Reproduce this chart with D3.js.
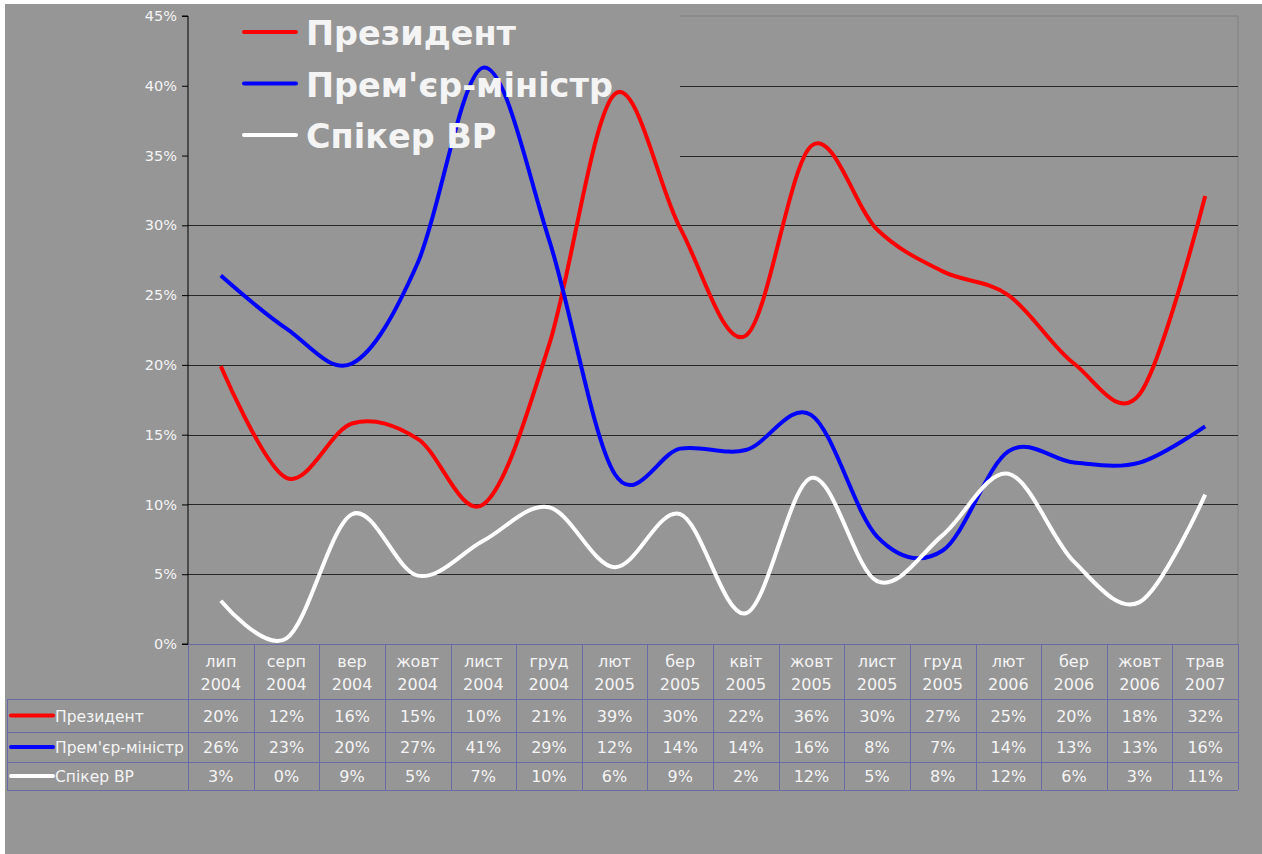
<html>
    <head>
        <meta charset="utf-8">
        <script src="https://cdn.jsdelivr.net/npm/d3@7"></script>
        <style>
            body { margin: 0; background: #fff; }
            text { font-family: "DejaVu Sans", sans-serif; fill: #f4f4f4; }
        </style>
    </head>
    <body>
        <svg id="chart"></svg>
    </body>
    <script>
        const WIDTH = 1262
        const HEIGHT = 854
        const PLOT = {left: 188, right: 1238, top: 16, bottom: 644}
        const BG = "#969696"
        const TABLE_LINE = "#6a6aa4"

        // month / year labels under each column
        const months = ["лип", "серп", "вер", "жовт", "лист", "груд", "лют", "бер", "квіт", "жовт", "лист", "груд", "лют", "бер", "жовт", "трав"]
        const years = ["2004", "2004", "2004", "2004", "2004", "2004", "2005", "2005", "2005", "2005", "2005", "2005", "2006", "2006", "2006", "2007"]

        // values in percent
        const president = [19.9, 11.9, 15.8, 14.7, 10.0, 21.4, 39.4, 29.8, 22.1, 35.7, 29.7, 26.7, 25.0, 20.1, 17.9, 32.1]
        const premier = [26.4, 22.6, 20.1, 27.3, 41.3, 29.0, 12.2, 14.0, 13.9, 16.4, 7.7, 6.7, 13.8, 13.0, 13.0, 15.6]
        const speaker = [3.1, 0.4, 9.3, 4.9, 7.4, 9.8, 5.5, 9.3, 2.2, 11.9, 4.5, 7.8, 12.2, 5.9, 3.0, 10.7]

        const seriesNames = ["Президент", "Прем'єр-міністр", "Спікер ВР"]
        const seriesColors = ["#ff0000", "#0000ff", "#ffffff"]
        const yTicks = [0, 5, 10, 15, 20, 25, 30, 35, 40, 45]

        const svg = d3.select("#chart").attr("width", WIDTH).attr("height", HEIGHT)

        // chart background
        svg.append("rect").attr("x", 5).attr("y", 4)
            .attr("width", WIDTH - 5).attr("height", HEIGHT - 4)
            .attr("fill", BG)

        const x = d3.scaleBand()
            .domain(d3.range(months.length))
            .range([PLOT.left, PLOT.right])
        const y = d3.scaleLinear()
            .domain([0, 45])
            .range([PLOT.bottom, PLOT.top])

        // plot border (top and right)
        svg.append("path")
            .attr("d", `M${PLOT.left},${PLOT.top}H${PLOT.right}V${PLOT.bottom}`)
            .attr("fill", "none").attr("stroke", "#808080").attr("stroke-width", 1)

        // gridlines
        svg.append("g").selectAll("line")
            .data(yTicks.filter(d => d > 0 && d < 45))
            .join("line")
                .attr("x1", PLOT.left).attr("x2", PLOT.right)
                .attr("y1", d => Math.round(y(d)) + 0.5).attr("y2", d => Math.round(y(d)) + 0.5)
                .attr("stroke", "#262626")

        // legend background hides the gridlines underneath it
        svg.append("rect")
            .attr("x", PLOT.left).attr("y", 8)
            .attr("width", 680 - PLOT.left).attr("height", 162)
            .attr("fill", BG)

        // y axis
        const yAxis = d3.axisLeft(y)
            .tickValues(yTicks)
            .tickFormat(d => d + "%")
            .tickSize(6)
            .tickPadding(5)
        const yg = svg.append("g")
            .attr("transform", `translate(${PLOT.left},0)`)
            .call(yAxis)
        yg.select(".domain").attr("stroke", "#000").attr("d", `M-6,${PLOT.top}H0V${PLOT.bottom}H-6`)
        yg.selectAll(".tick line").attr("stroke", "#000")
        yg.selectAll(".tick text")
            .attr("font-size", 14.5)
            .attr("font-family", "DejaVu Sans")
            .attr("fill", "#f4f4f4")

        // series lines
        const line = d3.line()
            .x((d, i) => x(i) + x.bandwidth() / 2)
            .y(d => y(d))
            .curve(d3.curveCardinal.tension(0))

        const allSeries = [president, premier, speaker]
        svg.append("g").selectAll("path")
            .data(allSeries)
            .join("path")
                .attr("d", line)
                .attr("fill", "none")
                .attr("stroke", (d, i) => seriesColors[i])
                .attr("stroke-width", 4)
                .attr("stroke-linejoin", "round")

        // big legend
        const legend = svg.append("g")
        seriesNames.forEach((name, i) => {
            const ly = 32 + i * 51.5
            legend.append("line")
                .attr("x1", 244).attr("x2", 296)
                .attr("y1", ly).attr("y2", ly)
                .attr("stroke", seriesColors[i]).attr("stroke-width", 4)
                .attr("stroke-linecap", "round")
            legend.append("text")
                .attr("x", 306).attr("y", ly + 13)
                .attr("font-size", 33.5)
                .attr("font-weight", "bold")
                .attr("fill", "#fff")
                .text(name)
        })

        // data table
        const rowEdges = [644, 699, 732, 762, 790]
        const table = svg.append("g")

        // horizontal lines
        rowEdges.forEach((ry, i) => {
            table.append("line")
                .attr("x1", i === 0 ? PLOT.left : 7).attr("x2", PLOT.right)
                .attr("y1", ry + 0.5).attr("y2", ry + 0.5)
                .attr("stroke", TABLE_LINE)
        })
        // vertical lines
        d3.range(months.length + 1).forEach(i => {
            const vx = i < months.length ? x(i) : PLOT.right
            table.append("line")
                .attr("x1", Math.round(vx) + 0.5).attr("x2", Math.round(vx) + 0.5)
                .attr("y1", rowEdges[0]).attr("y2", rowEdges[4])
                .attr("stroke", TABLE_LINE)
        })
        table.append("line")
            .attr("x1", 7.5).attr("x2", 7.5)
            .attr("y1", rowEdges[1]).attr("y2", rowEdges[4])
            .attr("stroke", TABLE_LINE)

        // category labels
        months.forEach((m, i) => {
            const cx = x(i) + x.bandwidth() / 2
            const t = table.append("text")
                .attr("text-anchor", "middle")
                .attr("font-size", 16)
            t.append("tspan").attr("x", cx).attr("y", 667).text(m)
            t.append("tspan").attr("x", cx).attr("y", 690).text(years[i])
        })

        // table rows
        allSeries.forEach((vals, r) => {
            const mid = (rowEdges[r + 1] + rowEdges[r + 2]) / 2
            table.append("line")
                .attr("x1", 11).attr("x2", 53)
                .attr("y1", mid).attr("y2", mid)
                .attr("stroke", seriesColors[r]).attr("stroke-width", 4)
                .attr("stroke-linecap", "round")
            table.append("text")
                .attr("x", 55).attr("y", mid + 6)
                .attr("font-size", 15.5)
                .text(seriesNames[r])
            vals.forEach((v, i) => {
                table.append("text")
                    .attr("x", x(i) + x.bandwidth() / 2)
                    .attr("y", mid + 6)
                    .attr("text-anchor", "middle")
                    .attr("font-size", 16)
                    .text(Math.round(v) + "%")
            })
        })
    </script>
</html>
